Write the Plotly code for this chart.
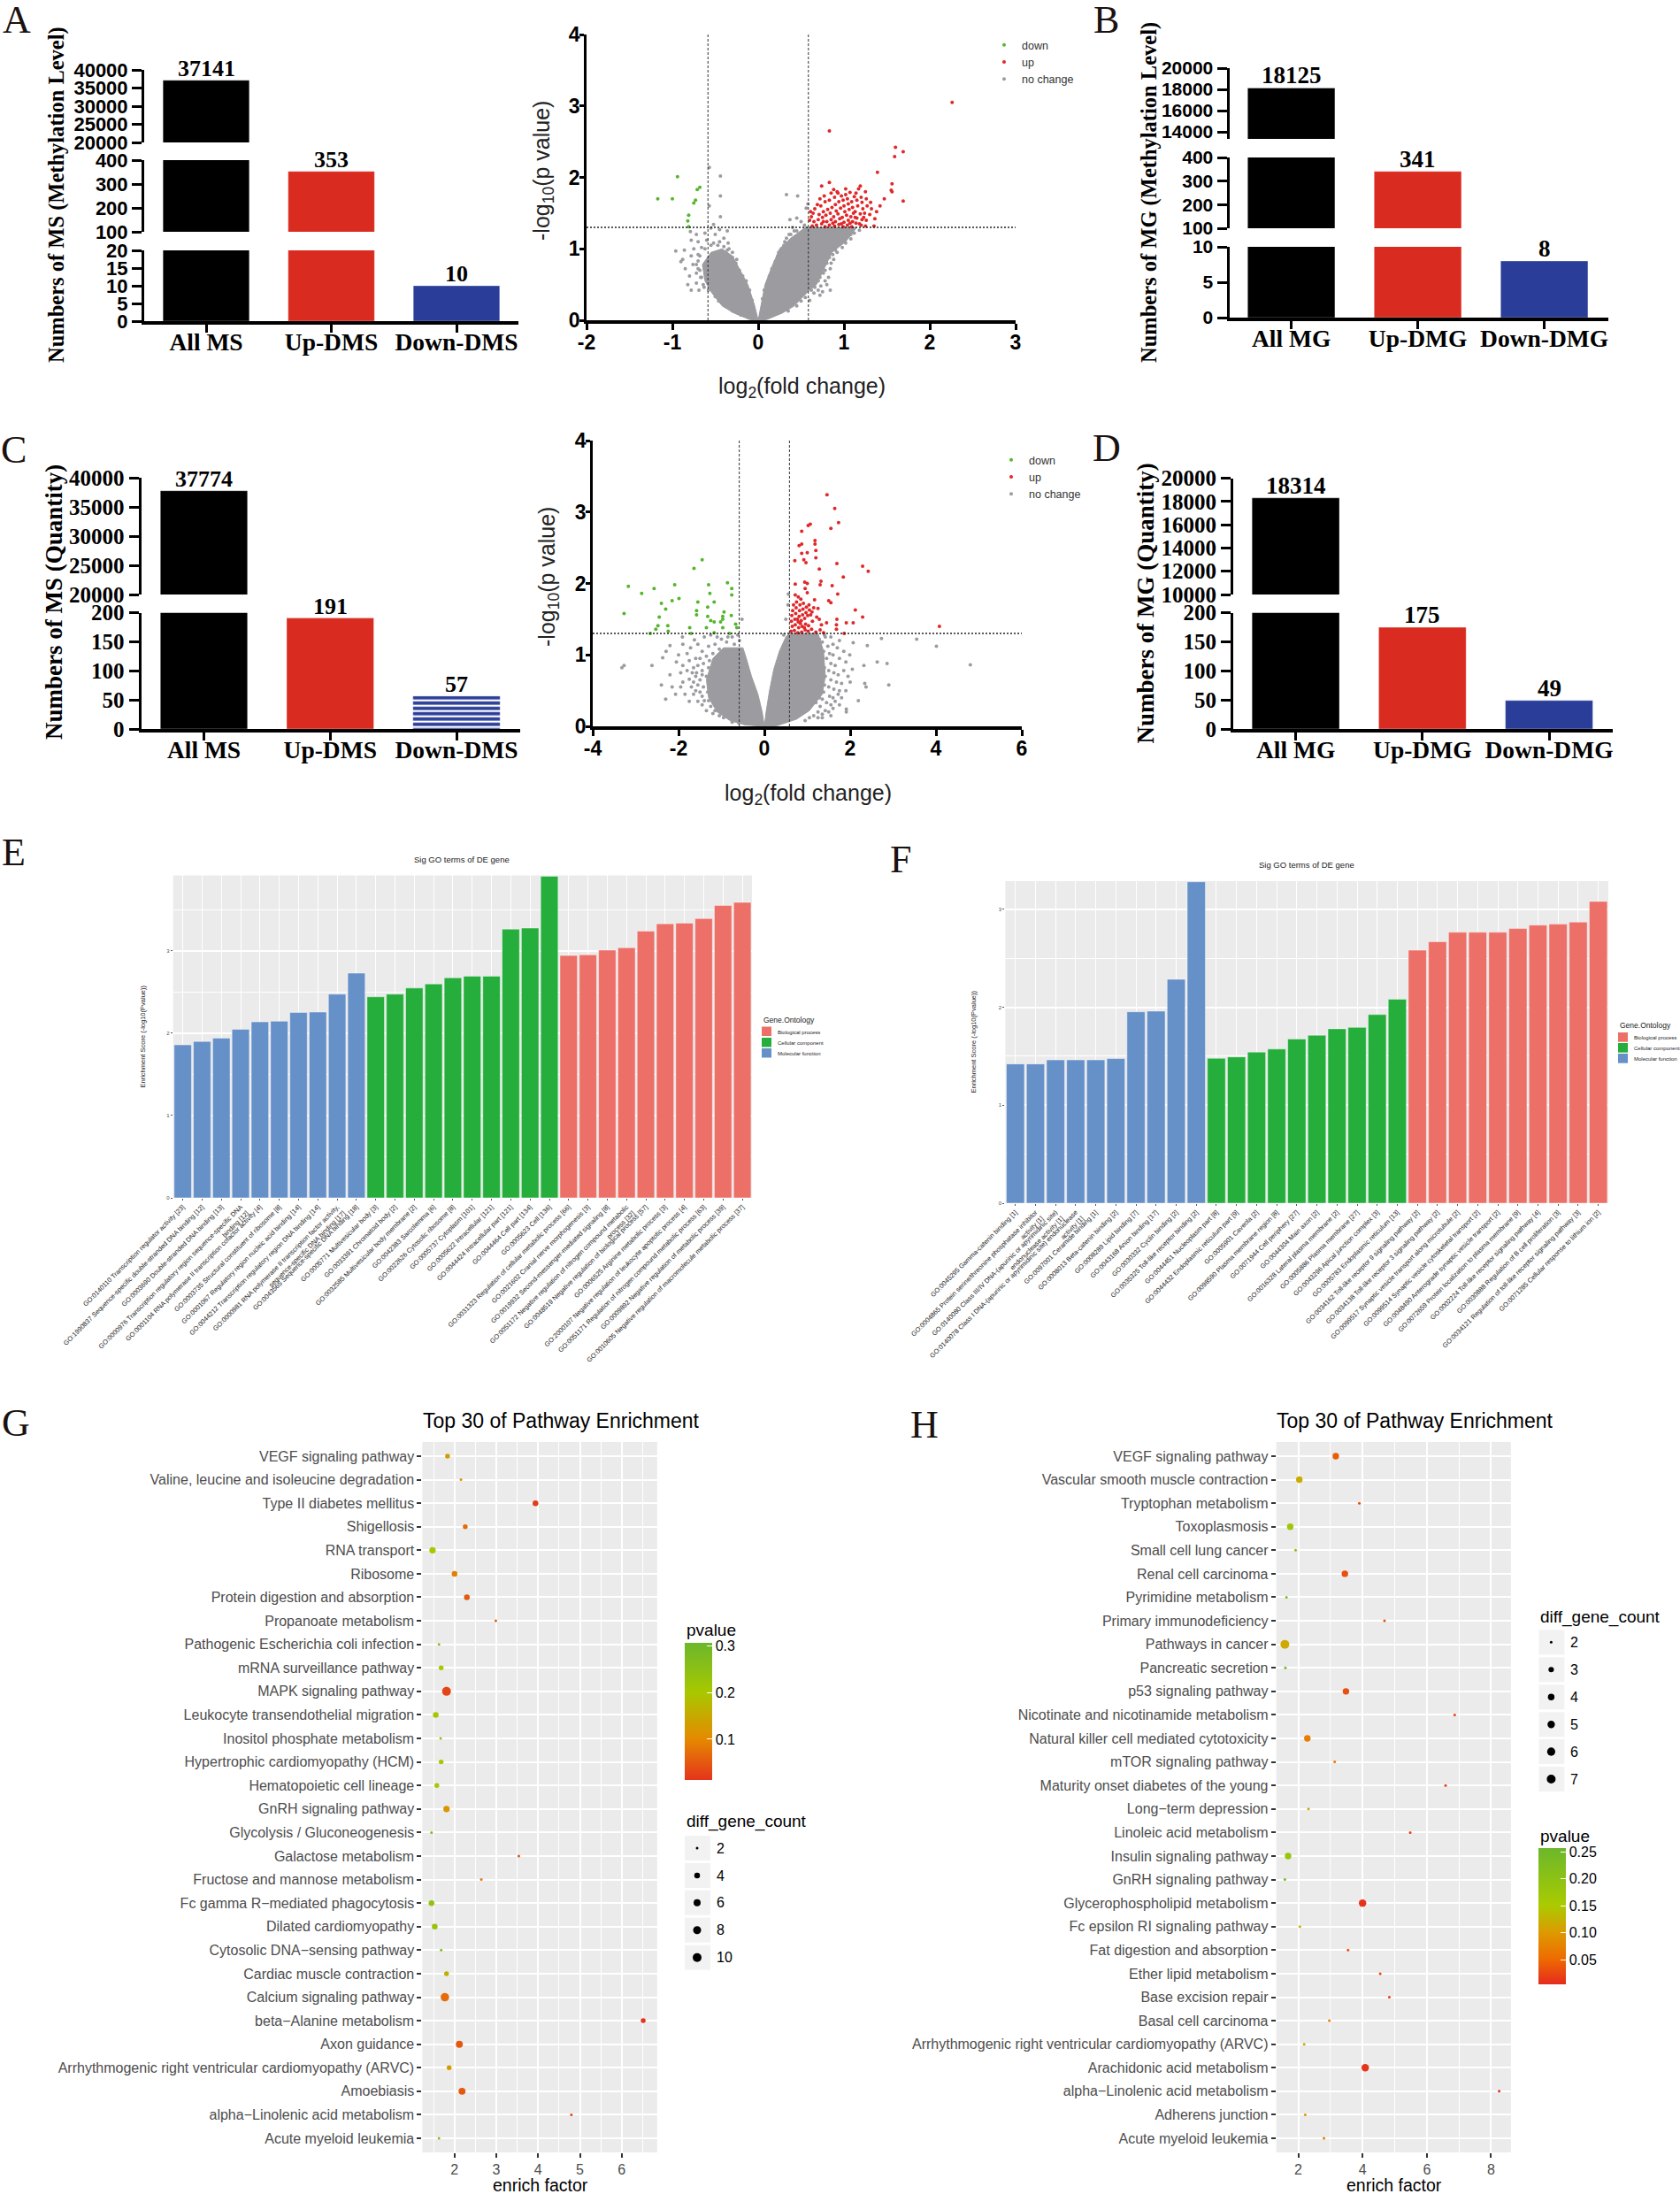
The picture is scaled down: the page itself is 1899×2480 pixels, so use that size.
import plotly.graph_objects as go

W, H = 1899, 2480
SANS, SERIF = "Liberation Sans", "Liberation Serif"
BLACK, RED, BLUE = "#000000", "#D92B20", "#2A3D98"
GRAY_PT, RED_PT, GREEN_PT = "#9C9BA0", "#E0282A", "#55B52E"
GO_BP, GO_CC, GO_MF = "#EC7068", "#25AE3C", "#6690C8"
PANEL = "#EBEBEB"

# ---------- bar panels ----------
ms_meth_cats = ["All MS", "Up-DMS", "Down-DMS"]
ms_meth_vals = [37141, 353, 10]
mg_meth_cats = ["All MG", "Up-DMG", "Down-DMG"]
mg_meth_vals = [18125, 341, 8]
ms_quant_cats = ["All MS", "Up-DMS", "Down-DMS"]
ms_quant_vals = [37774, 191, 57]
mg_quant_cats = ["All MG", "Up-DMG", "Down-DMG"]
mg_quant_vals = [18314, 175, 49]

# ---------- volcano A ----------
fc_cut, p_cut = 0.585, 1.301
a_up = [(2.26,3.05),(.83,2.65),(1.60,2.42),(1.69,2.36),(1.59,2.29),(1.39,2.07),(.83,1.93),(.74,1.88),(1.56,1.91),(1.55,1.82),
 (1.56,1.80),(1.69,1.67),(1.19,1.88),(.63,1.32),(.65,1.38),(.62,1.45),(.64,1.5),(.68,1.33),(.7,1.41),(.71,1.48),(.66,1.56),
 (.74,1.35),(.75,1.44),(.76,1.52),(.73,1.6),(.78,1.31),(.8,1.38),(.79,1.47),(.81,1.55),(.78,1.66),(.83,1.33),(.85,1.41),
 (.84,1.5),(.86,1.58),(.83,1.68),(.85,1.78),(.89,1.32),(.9,1.38),(.88,1.45),(.91,1.53),(.9,1.62),(.89,1.72),(.92,1.8),
 (.94,1.34),(.95,1.42),(.93,1.49),(.96,1.57),(.94,1.66),(.97,1.74),(.93,1.78),(.99,1.31),(1.0,1.37),(.98,1.44),(1.01,1.52),
 (1.0,1.6),(.99,1.68),(1.02,1.76),(1.04,1.33),(1.05,1.4),(1.03,1.47),(1.06,1.55),(1.05,1.63),(1.04,1.7),(1.07,1.79),
 (1.09,1.31),(1.1,1.38),(1.08,1.45),(1.11,1.5),(1.1,1.58),(1.09,1.66),(1.12,1.73),(1.14,1.36),(1.15,1.43),(1.13,1.52),
 (1.16,1.6),(1.15,1.68),(1.14,1.78),(1.17,1.84),(1.2,1.33),(1.21,1.41),(1.19,1.49),(1.22,1.56),(1.21,1.65),(1.2,1.72),
 (1.25,1.32),(1.26,1.4),(1.24,1.5),(1.27,1.6),(1.26,1.7),(1.25,1.8),(1.3,1.48),(1.32,1.56),(1.31,1.65),(1.35,1.32),
 (1.36,1.42),(1.38,1.52),(1.42,1.6),(1.47,1.7),(.72,1.7),(.6,1.4),(.61,1.52),(.69,1.62),(.77,1.74),(.88,1.83),(1.02,1.84),
 (1.13,1.44),(1.18,1.35),(.97,1.35),(.87,1.36),(.76,1.38),(1.07,1.36),(1.23,1.44)]
a_down = [(-.94,2.01),(-.68,1.86),(-.71,1.83),(-1.17,1.70),(-1.0,1.70),(-.73,1.68),(-.75,1.64),(-.81,1.47),(-.82,1.39),(-.81,1.31)]
a_same = [(-.57,2.14),(-.44,2.02),(-.44,1.74),(-.57,1.6),(.33,1.76),(.46,1.74),(.58,1.63),(.56,1.57),(.37,1.41),(.45,1.43),
 (-.44,1.45),(-.52,1.34),(-.55,1.29),(-.45,1.27),(-.36,1.25),(-.79,1.24),(-.72,1.2),(-.62,1.22),(-.5,1.2),(-.4,1.15),(-.78,1.12),
 (-.7,1.1),(-.6,1.12),(-.52,1.08),(-.35,1.08),(-.96,.97),(-.86,.98),(-.75,1.0),(-.66,1.02),(-.47,1.05),(-.88,.85),(-.78,.9),
 (-.7,.92),(-.85,.72),(-.76,.78),(-.7,.83),(-.9,.82),(-.8,.62),(-.72,.66),(-.68,.7),(-.82,.5),(-.72,.52),(-.67,.6),(-.78,.42),
 (-.69,.42),(-.63,.46),(-.34,1.0),(-.3,.95),(-.25,.85),(.24,.95),(.2,.82),(.3,1.05),(.36,1.2),(.45,1.25),(.4,1.3),(.5,1.38),
 (.54,1.33),(.83,1.15),(.9,1.05),(.95,1.12),(1.05,1.2),(1.1,1.28),(1.18,1.26),(1.08,1.14),(.88,.85),(.84,.72),(.82,.6),(.8,.5),
 (.84,.42),(.75,.4),(.72,.35),(.6,.28),(.92,.95),
 (.05,.3),(.07,.42),(.1,.5),(.13,.62),(.16,.72),(.2,.78),(.23,.9),(.27,1.0),(.31,1.1),(.38,1.2),(.42,1.25),(.07,.25),(.12,.55),(.18,.68),
 (.22,.82),(.28,.92),(.33,1.15),(.35,.13),(.45,.2),(.5,.27),(.55,.32),(.62,.42),(.66,.46),(.7,.55),(.72,.6),(.76,.66),(.78,.7),(.8,.8),
 (.83,.88),(.87,.92),(.9,.98),(.98,1.02),(1.02,1.08),(1.08,1.2),(1.12,1.22),(.73,.48),(.78,.55),(.7,.42),(.65,.38),(.85,.8),(.75,.75),
 (-.07,.28),(-.1,.42),(-.14,.55),(-.18,.62),(-.22,.7),(-.26,.8),(-.3,.88),(-.36,.98),(-.4,1.03),(-.45,1.1),(-.55,1.05),(-.62,1.0),(-.68,.9),
 (-.72,.78),(-.7,.72),(-.66,.6),(-.64,.5),(-.58,.42),(-.5,.33),(-.46,.27),(-.38,.2),(-.3,.13),(-.2,.07)]
a_core_right_x = [0,.03,.08,.16,.25,.38,.55,1.15,1.02,.86,.78,.68,.58,.42,.28,.1,0]
a_core_right_y = [0,.2,.5,.75,1.0,1.15,1.3,1.3,1.1,.95,.75,.5,.4,.2,.1,.01,0]
a_core_left_x = [0,-.04,-.12,-.22,-.3,-.42,-.55,-.65,-.62,-.55,-.42,-.28,-.1,0]
a_core_left_y = [0,.2,.5,.72,.9,1.0,.95,.78,.55,.4,.2,.1,.01,0]

# ---------- volcano C ----------
c_up = [(1.46,3.24),(1.64,3.05),(1.73,2.85),(1.07,2.83),(1.02,2.81),(1.55,2.77),(.87,2.73),(1.18,2.6),(1.18,2.55),(.87,2.55),
 (.81,2.53),(1.2,2.46),(1.0,2.43),(.87,2.42),(.71,2.32),(.92,2.33),(.97,2.29),(1.69,2.28),(1.2,2.36),(2.29,2.24),(2.42,2.17),
 (1.28,2.2),(1.84,2.09),(1.32,2.03),(.94,2.02),(1.0,2.0),(.72,1.99),(1.3,1.98),(1.58,1.97),(.95,1.93),(1.0,1.87),(.72,1.84),
 (1.71,1.85),(.79,1.81),(1.5,1.76),(1.17,1.77),(1.55,1.73),(2.12,1.63),(2.29,1.53),(1.69,1.5),(1.91,1.45),(2.07,1.45),(4.08,1.40),
 (1.68,1.42),(1.68,1.36),(1.33,1.42),(1.45,1.45),(1.86,1.3),(.62,1.33),(.65,1.4),(.63,1.47),(.64,1.55),(.66,1.62),(.7,1.34),
 (.72,1.42),(.71,1.5),(.73,1.58),(.74,1.66),(.75,1.74),(.78,1.31),(.8,1.38),(.79,1.46),(.81,1.54),(.82,1.62),(.83,1.7),(.85,1.78),
 (.87,1.32),(.88,1.4),(.86,1.48),(.89,1.56),(.9,1.64),(.91,1.72),(.95,1.35),(.96,1.43),(.94,1.51),(.97,1.59),(.98,1.67),(1.02,1.33),
 (1.03,1.41),(1.01,1.55),(1.05,1.63),(1.04,1.7),(1.1,1.36),(1.12,1.47),(1.11,1.6),(1.15,1.66),(1.2,1.32),(1.22,1.53),(1.25,1.65),
 (1.3,1.35),(1.38,1.31),(1.28,1.5),(.68,1.7),(.77,1.5),(.84,1.44),(.93,1.38),(1.08,1.56)]
c_down = [(-1.45,2.33),(-1.64,2.21),(-3.17,1.96),(-2.57,1.93),(-2.09,1.98),(-2.86,1.86),(-1.3,1.98),(-.86,2.01),(-.76,1.93),(-.76,1.84),
 (-1.27,1.86),(-1.99,1.79),(-2.15,1.76),(-2.4,1.72),(-1.55,1.74),(-1.17,1.74),(-1.32,1.67),(-2.3,1.64),(-3.27,1.58),(-1.58,1.62),
 (-1.58,1.56),(-2.45,1.53),(-.94,1.6),(-1.32,1.54),(-.97,1.54),(-.77,1.55),(-.97,1.5),(-1.25,1.48),(-1.02,1.46),(-1.17,1.46),(-.67,1.43),
 (-2.48,1.41),(-2.25,1.41),(-2.53,1.36),(-2.24,1.33),(-1.74,1.38),(-1.35,1.38),(-.97,1.38),(-.64,1.38),(-2.66,1.3),(-1.71,1.3),(-1.17,1.31),(-.81,1.3)]
c_same = [(4.8,.86),(4.01,1.12),(3.55,1.22),(2.73,1.23),(2.4,1.13),(2.86,.88),(2.63,.9),(2.32,.85),(2.9,.58),(2.34,.6),(2.37,.55),(2.19,.36),
 (1.91,.24),(1.91,.2),(1.99,1.0),(2.07,1.17),(-3.27,.85),(-3.32,.82),(-2.62,.85),(-2.4,.58),(-2.3,.38),(-2.07,.45),(-2.2,1.13),(-2.29,1.05),
 (-2.37,.96),(-1.91,1.25),(-1.63,1.21),(-1.9,1.15),(-1.72,1.1),(-2.0,1.0),(-1.8,1.02),(-1.55,1.15),(-1.4,1.25),(-1.45,1.05),(-2.05,.9),
 (-1.9,.85),(-1.75,.92),(-1.6,.95),(-1.95,.75),(-1.8,.78),(-1.65,.82),(-2.2,.72),(-1.75,.66),(-1.6,.7),(-1.45,.72),(-1.9,.62),(-2.15,.55),
 (-1.95,.55),(-1.7,.55),(-1.55,.58),(-1.85,.45),(-1.65,.45),(-1.5,.48),(-1.75,.35),(-1.55,.35),(-1.45,.3),(-1.35,.22),(-1.2,.18),(.45,1.28),
 (.5,1.5),(.55,1.7),(.56,1.85),(-.52,1.5),(-.85,1.25),(-1.1,1.25),(1.55,1.25),(1.75,1.2),(1.7,1.1),(1.85,1.05),(1.6,1.15),(1.9,.9),(1.85,.78),
 (1.95,.7),(1.75,.95),(2.0,.62),(1.8,.6),(1.9,.5),(1.75,.5),(1.8,.4),(1.65,.35),(1.75,.3),(1.6,.25),(1.5,.2),(1.55,.15),(1.35,.12),(2.05,.8),(1.4,1.28),
 (1.2,1.28),(1.28,1.22),(1.35,1.18),(1.42,1.25),(1.48,1.12),(1.3,1.12),(1.38,1.05),(1.52,1.02),(1.6,1.0),(1.45,.95),(1.35,.92),(1.55,.88),(1.65,.85),
 (1.4,.82),(1.5,.78),(1.62,.75),(1.72,.72),(1.42,.7),(1.55,.65),(1.68,.62),(1.4,.58),(1.5,.55),(1.62,.52),(1.72,.45),(1.38,.48),(1.52,.42),(1.6,.4),
 (1.35,.38),(1.45,.33),(1.55,.3),(1.3,.28),(1.42,.22),(1.25,.2),(1.35,.17),(1.15,.15),(1.05,.12),(1.25,.12),(.95,.08),(1.22,1.15),(1.28,.98),(1.33,.72),
 (1.32,.6),(1.28,.4),(1.2,.33),
 (-1.25,1.28),(-1.0,1.22),(-.75,1.25),(-.62,1.28),(-.58,1.2),(-.88,1.18),(-1.15,1.15),(-1.3,1.12),(-1.05,1.08),(-.7,1.15),(-1.2,1.02),(-1.35,.98),(-1.5,.95),
 (-1.1,.98),(-1.28,.92),(-1.42,.88),(-1.55,.85),(-1.68,.75),(-1.3,.82),(-1.45,.78),(-1.58,.75),(-1.35,.7),(-1.5,.65),(-1.65,.62),(-1.3,.6),(-1.42,.55),
 (-1.6,.5),(-1.32,.48),(-1.45,.42),(-1.3,.36),(-1.4,.36),(-1.25,.28),(-1.15,.22),(-1.05,.15),(-.95,.12),(-.75,.06),(-.6,.05)]
c_core_right_x = [0,.04,.12,.22,.35,.5,.58,1.25,1.38,1.42,1.35,1.05,.75,.3,0]
c_core_right_y = [0,.2,.5,.8,1.05,1.25,1.3,1.3,1.05,.7,.45,.22,.1,.01,0]
c_core_left_x = [0,-.05,-.15,-.3,-.42,-.5,-.95,-1.2,-1.35,-1.3,-1.1,-.8,-.45,0]
c_core_left_y = [0,.2,.45,.7,.95,1.1,1.1,.95,.65,.4,.2,.08,.02,0]

# ---------- GO bars ----------
e_mf_terms = ["GO:0140110 Transcription regulator activity [23]","GO:1990837 Sequence-specific double-stranded DNA binding [12]",
 "GO:0003690 Double-stranded DNA binding [13]","GO:0000976 Transcription regulatory region sequence-specific DNA<br>binding [12]",
 "GO:0001104 RNA polymerase II transcription cofactor activity [4]","GO:0003735 Structural constituent of ribosome [8]",
 "GO:0001067 Regulatory region nucleic acid binding [14]","GO:0044212 Transcription regulatory region DNA binding [14]",
 "GO:0000981 RNA polymerase II transcription factor activity,<br>sequence-specific DNA binding [17]","GO:0043565 Sequence-specific DNA binding [18]"]
e_mf_vals = [1.858,1.899,1.94,2.047,2.137,2.145,2.252,2.256,2.474,2.729]
e_cc_terms = ["GO:0005771 Multivesicular body [3]","GO:0033391 Chromatoid body [2]","GO:0032585 Multivesicular body membrane [2]",
 "GO:0042383 Sarcolemma [6]","GO:0022626 Cytosolic ribosome [8]","GO:0005737 Cytoplasm [101]","GO:0005622 Intracellular [121]",
 "GO:0044424 Intracellular part [121]","GO:0044464 Cell part [134]","GO:0005623 Cell [136]"]
e_cc_vals = [2.441,2.474,2.548,2.598,2.672,2.692,2.692,3.263,3.276,3.905]
e_bp_terms = ["GO:0031323 Regulation of cellular metabolic process [66]","GO:0021602 Cranial nerve morphogenesis [3]",
 "GO:0019932 Second-messenger-mediated signaling [8]","GO:0051172 Negative regulation of nitrogen compound metabolic<br>process [32]",
 "GO:0048519 Negative regulation of biological process [57]","GO:0006525 Arginine metabolic process [3]",
 "GO:2000107 Negative regulation of leukocyte apoptotic process [4]","GO:0051171 Regulation of nitrogen compound metabolic process [63]",
 "GO:0009892 Negative regulation of metabolic process [39]","GO:0010605 Negative regulation of macromolecule metabolic process [37]"]
e_bp_vals = [2.943,2.951,3.009,3.037,3.239,3.329,3.337,3.391,3.551,3.588]

f_mf_terms = ["GO:0045295 Gamma-catenin binding [1]","GO:0004865 Protein serine/threonine phosphatase inhibitor<br>activity [1]",
 "GO:0140080 Class III/IV DNA-(apurinic or apyrimidinic site)<br>endonuclease activity [1]","GO:0140078 Class I DNA-(apurinic or apyrimidinic site) endonuclease<br>activity [1]",
 "GO:0097001 Ceramide binding [1]","GO:0008013 Beta-catenin binding [2]","GO:0008289 Lipid binding [7]","GO:0043168 Anion binding [17]",
 "GO:0030332 Cyclin binding [2]","GO:0035325 Toll-like receptor binding [2]"]
f_mf_vals = [1.421,1.421,1.462,1.462,1.462,1.476,1.953,1.96,2.285,3.28]
f_cc_terms = ["GO:0044451 Nucleoplasm part [8]","GO:0044432 Endoplasmic reticulum part [9]","GO:0005901 Caveola [2]",
 "GO:0098590 Plasma membrane region [8]","GO:0071944 Cell periphery [27]","GO:0044304 Main axon [2]","GO:0016328 Lateral plasma membrane [2]",
 "GO:0005886 Plasma membrane [27]","GO:0043296 Apical junction complex [3]","GO:0005783 Endoplasmic reticulum [13]"]
f_cc_vals = [1.479,1.493,1.542,1.573,1.676,1.714,1.78,1.794,1.925,2.081]
f_bp_terms = ["GO:0034162 Toll-like receptor 9 signaling pathway [2]","GO:0034138 Toll-like receptor 3 signaling pathway [2]",
 "GO:0099517 Synaptic vesicle transport along microtubule [2]","GO:0099514 Synaptic vesicle cytoskeletal transport [2]",
 "GO:0048490 Anterograde synaptic vesicle transport [2]","GO:0072659 Protein localization to plasma membrane [9]",
 "GO:0002224 Toll-like receptor signaling pathway [4]","GO:0030888 Regulation of B cell proliferation [3]",
 "GO:0034121 Regulation of toll-like receptor signaling pathway [3]","GO:0071285 Cellular response to lithium ion [2]"]
f_bp_vals = [2.582,2.669,2.765,2.765,2.765,2.803,2.838,2.848,2.869,3.08]

# ---------- pathway dots ----------
g_terms = ["VEGF signaling pathway","Valine, leucine and isoleucine degradation","Type II diabetes mellitus","Shigellosis","RNA transport",
 "Ribosome","Protein digestion and absorption","Propanoate metabolism","Pathogenic Escherichia coli infection","mRNA surveillance pathway",
 "MAPK signaling pathway","Leukocyte transendothelial migration","Inositol phosphate metabolism","Hypertrophic cardiomyopathy (HCM)",
 "Hematopoietic cell lineage","GnRH signaling pathway","Glycolysis / Gluconeogenesis","Galactose metabolism","Fructose and mannose metabolism",
 "Fc gamma R\u2212mediated phagocytosis","Dilated cardiomyopathy","Cytosolic DNA\u2212sensing pathway","Cardiac muscle contraction",
 "Calcium signaling pathway","beta\u2212Alanine metabolism","Axon guidance","Arrhythmogenic right ventricular cardiomyopathy (ARVC)","Amoebiasis",
 "alpha\u2212Linolenic acid metabolism","Acute myeloid leukemia"]
g_factor = [1.833,2.154,3.936,2.256,1.474,2.0,2.295,2.987,1.628,1.68,1.808,1.551,1.667,1.68,1.577,1.808,1.449,3.538,2.641,1.449,1.526,1.68,1.808,1.769,6.513,2.115,1.872,2.179,4.795,1.628]
g_p = [.13,.1,.02,.07,.2,.09,.05,.05,.25,.2,.03,.21,.24,.2,.2,.12,.27,.05,.08,.24,.23,.27,.16,.07,.005,.05,.13,.05,.03,.26]
g_count = [3,2,4,3,5,4,4,2,2,3,10,4,2,3,3,5,2,2,2,4,4,2,3,9,3,6,3,6,2,2]
h_terms = ["VEGF signaling pathway","Vascular smooth muscle contraction","Tryptophan metabolism","Toxoplasmosis","Small cell lung cancer",
 "Renal cell carcinoma","Pyrimidine metabolism","Primary immunodeficiency","Pathways in cancer","Pancreatic secretion","p53 signaling pathway",
 "Nicotinate and nicotinamide metabolism","Natural killer cell mediated cytotoxicity","mTOR signaling pathway","Maturity onset diabetes of the young",
 "Long\u2212term depression","Linoleic acid metabolism","Insulin signaling pathway","GnRH signaling pathway","Glycerophospholipid metabolism",
 "Fc epsilon RI signaling pathway","Fat digestion and absorption","Ether lipid metabolism","Base excision repair","Basal cell carcinoma",
 "Arrhythmogenic right ventricular cardiomyopathy (ARVC)","Arachidonic acid metabolism","alpha\u2212Linolenic acid metabolism","Adherens junction","Acute myeloid leukemia"]
h_factor = [3.167,2.033,3.9,1.75,1.917,3.45,1.633,4.683,1.583,1.6,3.483,6.867,2.283,3.133,6.583,2.317,5.483,1.683,1.583,4.0,2.05,3.55,4.55,4.833,2.967,2.183,4.083,8.25,2.217,2.8]
h_p = [.04,.12,.03,.17,.2,.03,.22,.03,.115,.24,.03,.02,.07,.06,.02,.11,.02,.18,.24,.01,.13,.03,.02,.02,.07,.12,.01,.005,.1,.07]
h_count = [4,4,2,4,2,4,2,2,7,2,4,2,4,2,2,2,2,4,2,5,2,2,2,2,2,2,5,2,2,2]
g_size_keys = [2,4,6,8,10]
h_size_keys = [2,3,4,5,6,7]
g_p_ticks = [.1,.2,.3]
h_p_ticks = [.05,.10,.15,.20,.25]

fig = go.Figure()
layout = {}
shapes, notes = [], []
n_ax = [0]

def new_axes(x0, x1, top, bot, xax, yax):
    n_ax[0] += 1
    k = n_ax[0]
    sfx = "" if k == 1 else str(k)
    ax = dict(domain=[x0 / W, x1 / W], anchor="y" + sfx, zeroline=False, showgrid=False)
    ax.update(xax)
    ay = dict(domain=[1 - bot / H, 1 - top / H], anchor="x" + sfx, zeroline=False, showgrid=False)
    ay.update(yax)
    layout["xaxis" + sfx] = ax
    layout["yaxis" + sfx] = ay
    return "x" + sfx, "y" + sfx

def note(x, y, text, size, color="black", family=SANS, angle=0, xanchor="center", bold=False):
    if bold:
        text = "<b>" + text + "</b>"
    notes.append(dict(x=x / W, y=1 - y / H, xref="paper", yref="paper", text=text, showarrow=False, textangle=angle,
                      font=dict(size=size, color=color, family=family), xanchor=xanchor, yanchor="middle"))

def paper_shape(kind, x0, y0, x1, y1, fill, layer="below"):
    shapes.append(dict(type=kind, xref="paper", yref="paper", x0=x0 / W, x1=x1 / W, y0=1 - y0 / H, y1=1 - y1 / H,
                       fillcolor=fill, line=dict(width=0), layer=layer))

def broken_bars(x0, x1, c0, step, cats, vals, segs, tick_font, label_size, cat_size, stripes=False):
    xr = [(x0 - c0) / step, (x1 - c0) / step]
    colors = [BLACK, RED, BLUE]
    for i, (top, bot, lo, hi, ticks, label_idx) in enumerate(segs):
        last = i == len(segs) - 1
        xax = dict(range=xr, tickmode="array", tickvals=[0, 1, 2], ticktext=["<b>%s</b>" % c for c in cats], showline=True, linecolor="black", linewidth=4,
                   ticks="outside", ticklen=9, tickwidth=3, tickcolor="black", tickangle=0, ticklabelstandoff=-13,
                   tickfont=dict(family=SERIF, size=cat_size, color="black")) if last else dict(range=xr, visible=False)
        yax = dict(range=[lo, hi], tickmode="array", tickvals=ticks, ticktext=["<b>%d</b>" % t for t in ticks],
                   showline=True, linecolor="black", linewidth=3, ticks="outside", ticklen=11, tickwidth=3, tickcolor="black",
                   tickfont=tick_font)
        xa, ya = new_axes(x0, x1, top, bot, xax, yax)
        marker = dict(color=colors, line=dict(width=1, color="rgba(255,255,255,.35)"))
        if stripes:
            marker["pattern"] = dict(shape=["", "", "-"], fgcolor="black", fgopacity=1, bgcolor=colors, size=6, solidity=.38)
        fig.add_trace(go.Bar(x=[0, 1, 2], y=vals, width=.69, marker=marker, xaxis=xa, yaxis=ya, showlegend=False))
        for li in label_idx:
            notes.append(dict(x=li, y=vals[li], xref=xa, yref=ya, text="<b>%d</b>" % vals[li], showarrow=False,
                              yanchor="bottom", yshift=-3, font=dict(family=SERIF, size=label_size, color="black")))

def volcano(x0, x1, top, bot, xr, xticks, pts_up, pts_down, pts_same, polys, legend_name, legend_x, legend_y):
    xa, ya = new_axes(x0, x1, top, bot,
                      dict(range=xr, tickvals=xticks, ticktext=["<b>%d</b>" % t for t in xticks], showline=True, linecolor="black", linewidth=4,
                           ticks="outside", ticklen=7, tickwidth=3, tickcolor="black", tickangle=0, ticklabelstandoff=-6, tickfont=dict(family=SANS, size=23, color="black")),
                      dict(range=[0, 4], tickvals=[0, 1, 2, 3, 4], ticktext=["<b>%d</b>" % t for t in range(5)], showline=True, linecolor="black", linewidth=2.5,
                           ticks="outside", ticklen=5, tickwidth=2.5, tickcolor="black", ticklabelstandoff=-5, tickfont=dict(family=SANS, size=23, color="black")))
    for px, py in polys:
        fig.add_trace(go.Scatter(x=px, y=py, mode="lines", fill="toself", fillcolor=GRAY_PT, line=dict(width=1, color=GRAY_PT),
                                 xaxis=xa, yaxis=ya, showlegend=False, hoverinfo="skip"))
    def pts(p, name, color, rank, size=4):
        fig.add_trace(go.Scatter(x=[a for a, b in p], y=[b for a, b in p], mode="markers", name=name, legendrank=rank,
                                 marker=dict(size=size, color=color), xaxis=xa, yaxis=ya, legend=legend_name))
    pts(pts_same, "no change", GRAY_PT, 3)
    pts(pts_down, "down", GREEN_PT, 1)
    pts(pts_up, "up", RED_PT, 2)
    for xs in (-fc_cut, fc_cut):
        fig.add_trace(go.Scatter(x=[xs, xs], y=[0, 4], mode="lines", line=dict(color="#333333", width=1, dash="3px,2px"),
                                 xaxis=xa, yaxis=ya, showlegend=False, hoverinfo="skip"))
    fig.add_trace(go.Scatter(x=xr, y=[p_cut, p_cut], mode="lines", line=dict(color="#222222", width=1.5, dash="2px,2px"),
                             xaxis=xa, yaxis=ya, showlegend=False, hoverinfo="skip"))
    layout[legend_name] = dict(
        x=legend_x / W, y=1 - legend_y / H, xanchor="left", yanchor="top", bgcolor="rgba(0,0,0,0)", traceorder="normal",
        font=dict(family=SANS, size=12.5, color="#333333"), tracegroupgap=0)

def go_panel(x0, x1, top, bot, ymax, mf, cc, bp, terms):
    vals_all = [mf, cc, bp]
    paper_shape("rect", x0, top, x1, bot, PANEL)
    xa, ya = new_axes(x0, x1, top, bot,
                      dict(range=[-.5, 29.5], tickmode="array", tickvals=list(range(30)), ticktext=terms, tickangle=-45, showgrid=True,
                           gridcolor="white", gridwidth=1, ticks="outside", ticklen=2, tickwidth=.6, tickcolor="#555555",
                           tickfont=dict(family=SANS, size=7.5, color="#222222")),
                      dict(range=[0, ymax], tickmode="array", tickvals=[0, 1, 2, 3], showgrid=True, gridcolor="white", gridwidth=1.6,
                           minor=dict(tickvals=[.5, 1.5, 2.5, 3.5], showgrid=True, gridcolor="white", gridwidth=.6),
                           ticks="outside", ticklen=2, tickwidth=.6, tickcolor="#555555", tickfont=dict(family=SANS, size=6, color="#4D4D4D")))
    pos = 0
    for v, c in zip(vals_all, (GO_MF, GO_CC, GO_BP)):
        fig.add_trace(go.Bar(x=list(range(pos, pos + len(v))), y=v, width=.9, marker=dict(color=c, line=dict(width=.8, color="rgba(255,255,255,.55)")),
                             xaxis=xa, yaxis=ya, showlegend=False))
        pos += len(v)

def go_legend(tx, ty, rows, label_x):
    note(tx, ty, "Gene.Ontology", 8.5, xanchor="left", color="#222222")
    for (y0, y1, yt), label, c in zip(rows, ("Biological process", "Cellular component", "Molecular function"), (GO_BP, GO_CC, GO_MF)):
        paper_shape("rect", tx, y0, tx + 11, y1, c)
        note(label_x, yt, label, 6, xanchor="left", color="#222222")

PSCALE_G = [[0, "#E5341C"], [.3, "#E58A00"], [.64, "#A8C800"], [1, "#6CB72B"]]
PSCALE_H = [[0, "#E52B1E"], [.19, "#EE6C00"], [.38, "#DD9A00"], [.58, "#AACB00"], [1, "#6CB72B"]]

def dot_panel(x0, x1, xr, terms, factor, p, count, scale, cmin, cmax, ticks, tickfmt, minor_vals, cb_x, cb_top, cb_len, size_max, major):
    paper_shape("rect", x0, 1630, x1, 2433, PANEL)
    xa, ya = new_axes(x0, x1, 1630, 2433,
                      dict(range=xr, tickvals=major, showgrid=True, gridcolor="white", gridwidth=1.8,
                           minor=dict(tickvals=minor_vals, showgrid=True, gridcolor="white", gridwidth=.8),
                           ticks="outside", ticklen=5, tickwidth=2, tickcolor="#333333", tickangle=0, tickfont=dict(family=SANS, size=16, color="#4D4D4D")),
                      dict(type="category", categoryorder="array", categoryarray=terms, range=[29.6, -.6], showgrid=True, gridcolor="white", gridwidth=2,
                           ticks="outside", ticklen=5, tickwidth=2, tickcolor="#333333", tickfont=dict(family=SANS, size=16, color="#4D4D4D")))
    sizes = [3 + 7 * ((c - 2) / (size_max - 2)) ** .5 for c in count]
    fig.add_trace(go.Scatter(x=factor, y=terms, mode="markers", xaxis=xa, yaxis=ya, showlegend=False,
                             marker=dict(size=sizes, opacity=1, color=p, colorscale=scale, cmin=cmin, cmax=cmax, line=dict(width=0),
                                         colorbar=dict(x=cb_x / W, xanchor="left", y=1 - cb_top / H, yanchor="top", len=cb_len, lenmode="pixels",
                                                       thickness=31, thicknessmode="pixels", outlinewidth=0, xpad=0, ypad=0, ticks="inside", ticklen=6,
                                                       tickcolor="white", tickwidth=1, tickvals=ticks, tickformat=tickfmt,
                                                       tickfont=dict(family=SANS, size=16, color="black")))))

def size_legend(x0, title_y, centers, keys, size_max, label_x):
    note(x0, title_y, "diff_gene_count", 19, xanchor="left")
    for yc, k in zip(centers, keys):
        paper_shape("rect", x0, yc - 14, x0 + 29, yc + 14, "#F2F2F2")
        d = 3 + 7 * ((k - 2) / (size_max - 2)) ** .5
        cx = x0 + 14
        paper_shape("circle", cx - d / 2, yc - d / 2, cx + d / 2, yc + d / 2, "black", layer="above")
        note(label_x, yc, str(k), 16, xanchor="left")

sans22 = dict(family=SANS, size=22, color="black")
sans21 = dict(family=SANS, size=21, color="black")
serif25 = dict(family=SERIF, size=25, color="black")

# A
broken_bars(163, 586, 233, 141.5, ms_meth_cats, ms_meth_vals,
            [(79, 161, 20000, 40000, [20000, 25000, 30000, 35000, 40000], [0]),
             (181, 262, 100, 400, [100, 200, 300, 400], [1]),
             (283, 363, 0, 20, [0, 5, 10, 15, 20], [2])], sans22, 26, 27.5)
volcano(663, 1148, 39, 362, [-2, 3], [-2, -1, 0, 1, 2, 3], a_up, a_down, a_same,
        [(a_core_right_x, a_core_right_y), (a_core_left_x, a_core_left_y)], "legend", 1115, 36)
# B
broken_bars(1389.5, 1818, 1459.6, 143, mg_meth_cats, mg_meth_vals,
            [(77, 157, 13333, 20000, [14000, 16000, 18000, 20000], [0]),
             (178, 258, 100, 400, [100, 200, 300, 400], [1]),
             (279, 359, 0, 10, [0, 5, 10], [2])], sans21, 27, 27.5)
# C
broken_bars(159.5, 588, 230.5, 142.75, ms_quant_cats, ms_quant_vals,
            [(540, 672, 20000, 40000, [20000, 25000, 30000, 35000, 40000], [0]),
             (692.7, 824, 0, 200, [0, 50, 100, 150, 200], [1, 2])], serif25, 26, 27.5, stripes=True)
volcano(670, 1155, 498, 821, [-4, 6], [-4, -2, 0, 2, 4, 6], c_up, c_down, c_same,
        [(c_core_right_x, c_core_right_y), (c_core_left_x, c_core_left_y)], "legend2", 1123, 505)
# D
broken_bars(1394, 1823, 1464.6, 143.2, mg_quant_cats, mg_quant_vals,
            [(540.7, 672, 10000, 20000, [10000, 12000, 14000, 16000, 18000, 20000], [0]),
             (692.7, 824, 0, 200, [0, 50, 100, 150, 200], [1, 2])], serif25, 27, 27.5)

# volcano titles
note(614, 193, "-log<sub>10</sub>(p value)", 25, angle=-90, color="#222222")
note(906, 438, "log<sub>2</sub>(fold change)", 25, color="#222222")
note(620, 652, "-log<sub>10</sub>(p value)", 25, angle=-90, color="#222222")
note(913, 898, "log<sub>2</sub>(fold change)", 25, color="#222222")
# bar titles
note(64, 220, "Numbers of MS (Methylation Level)", 24.5, angle=-90, family=SERIF, bold=True)
note(1299, 218, "Numbers of MG (Methylation Level)", 24.5, angle=-90, family=SERIF, bold=True)
note(61, 681, "Numbers of MS (Quantity)", 27, angle=-90, family=SERIF, bold=True)
note(1294.5, 682, "Numbers of MG (Quantity)", 27, angle=-90, family=SERIF, bold=True)

# GO panels
go_panel(195.7, 850, 989.4, 1354, 3.917, e_mf_vals, e_cc_vals, e_bp_vals, e_mf_terms + e_cc_terms + e_bp_terms)
go_panel(1136.4, 1818, 996, 1360, 3.287, f_mf_vals, f_cc_vals, f_bp_vals, f_mf_terms + f_cc_terms + f_bp_terms)
note(522, 972, "Sig GO terms of DE gene", 9.5, color="#222222")
note(1476.6, 977.6, "Sig GO terms of DE gene", 9.5, color="#222222")
note(160.5, 1172, "Enrichment Score (-log10(Pvalue))", 7.5, angle=-90, color="#222222")
note(1099.5, 1178, "Enrichment Score (-log10(Pvalue))", 7.5, angle=-90, color="#222222")
go_legend(861, 1153, [(1160.5, 1171, 1166.6), (1173, 1183.5, 1179), (1185, 1195.5, 1191)], 877)
go_legend(1829, 1159, [(1167, 1177.7, 1173), (1179, 1189.7, 1184.6), (1191, 1201.7, 1197)], 1845)

# Pathway panels
dot_panel(477.4, 742.8, [1.23, 6.846], g_terms, g_factor, g_p, g_count, PSCALE_G, .0126, .307, g_p_ticks, ".1f",
          [1.5, 2.5, 3.5, 4.5, 5.5, 6.5], 773.7, 1857, 154.6, 10, [2, 3, 4, 5, 6])
dot_panel(1442.7, 1707.9, [1.317, 8.617], h_terms, h_factor, h_p, h_count, PSCALE_H, .0035, .2566, h_p_ticks, ".2f",
          [3, 5, 7], 1738.7, 2089.3, 154, 7, [2, 4, 6, 8])
note(634, 1605.7, "Top 30 of Pathway Enrichment", 23)
note(1599, 1605.7, "Top 30 of Pathway Enrichment", 23)
note(610.5, 2470, "enrich factor", 19.5)
note(1576, 2470, "enrich factor", 19.5)
note(774, 1842.7, "pvalue", 19, xanchor="left")
note(1738.7, 2075, "pvalue", 19, xanchor="left")
size_legend(774, 2059.3, [2089, 2120, 2150.7, 2181.7, 2212.7], g_size_keys, 10, 808)
size_legend(1739.4, 1827.7, [1856.3, 1887.3, 1918.3, 1949.3, 1980, 2011], h_size_keys, 7, 1773)

# panel letters
for letter, x, y in [("A", 19, 22), ("B", 1250, 22), ("C", 16, 509), ("D", 1251, 506), ("E", 16, 964), ("F", 1018, 972), ("G", 18, 1608), ("H", 1045, 1611)]:
    note(x, y, letter, 44, family=SERIF, color="#1A1210")

layout.update(width=W, height=H, margin=dict(l=0, r=0, t=0, b=0, autoexpand=False), paper_bgcolor="white", plot_bgcolor="rgba(0,0,0,0)",
              barmode="overlay", shapes=shapes, annotations=notes, hovermode=False)
fig.update_layout(**layout)
fig.write_html("out.html", config={"displayModeBar": False}, post_script="document.body.style.margin='0';")
